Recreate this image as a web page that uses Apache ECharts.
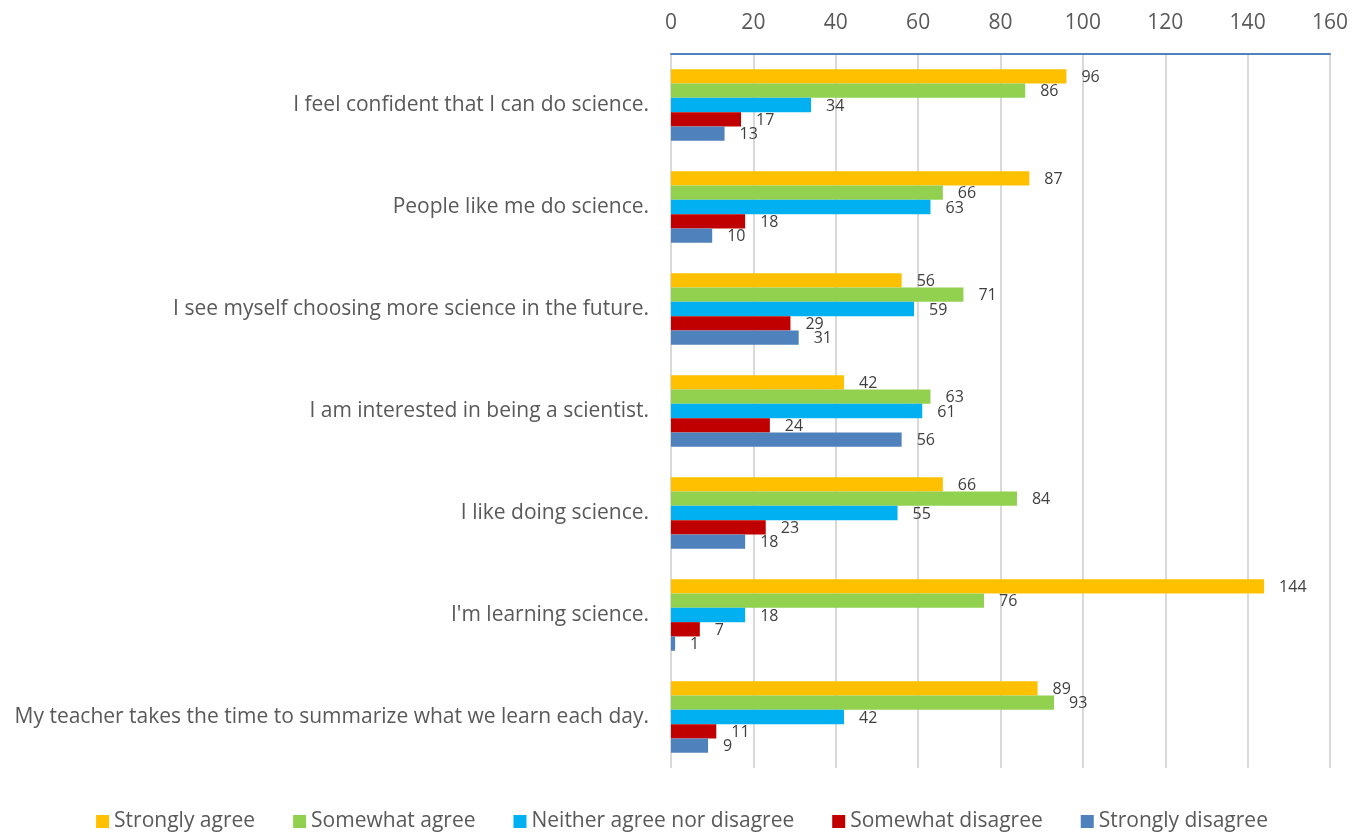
<!DOCTYPE html>
<html><head><meta charset="utf-8">
<script src="https://cdn.jsdelivr.net/npm/echarts@6/dist/echarts.min.js"></script>
<style>html,body{margin:0;padding:0;background:#fff}#c{width:1364px;height:832px}</style>
</head><body><div id="c"></div>
<script>
const categories = [
  "I feel confident that I can do science.",
  "People like me do science.",
  "I see myself choosing more science in the future.",
  "I am interested in being a scientist.",
  "I like doing science.",
  "I'm learning science.",
  "My teacher takes the time to summarize what we learn each day."
];
const seriesNames = ["Strongly agree","Somewhat agree","Neither agree nor disagree","Somewhat disagree","Strongly disagree"];
const stronglyAgree = [96, 87, 56, 42, 66, 144, 89];
const somewhatAgree = [86, 66, 71, 63, 84, 76, 93];
const neither = [34, 63, 59, 61, 55, 18, 42];
const somewhatDisagree = [17, 18, 29, 24, 23, 7, 11];
const stronglyDisagree = [13, 10, 31, 56, 18, 1, 9];
const xTicks = [0, 20, 40, 60, 80, 100, 120, 140, 160];

const colors = ["#FFC000","#92D050","#00B0F0","#C00000","#4F81BD"];
const values = [stronglyAgree, somewhatAgree, neither, somewhatDisagree, stronglyDisagree];
const FONT = "'Open Sans', 'Liberation Sans', sans-serif";

const chart = echarts.init(document.getElementById('c'), null, {renderer:'canvas'});
chart.setOption({
  animation: false,
  textStyle: {fontFamily: FONT},
  grid: {left: 671, right: 34, top: 54, bottom: 64, containLabel: false},
  legend: {
    left: 'center', top: 806,
    itemWidth: 13, itemHeight: 13, itemGap: 38,
    icon: 'rect',
    textStyle: {fontSize: 21, color: '#595959', fontFamily: FONT},
    data: seriesNames
  },
  xAxis: {
    type: 'value', position: 'top', min: xTicks[0], max: xTicks[xTicks.length-1], interval: 20,
    axisLine: {show: true, lineStyle: {color: '#4F81BD', width: 2}},
    axisTick: {show: false},
    axisLabel: {fontSize: 21, color: '#595959', margin: 20, fontFamily: FONT},
    splitLine: {show: true, lineStyle: {color: '#D9D9D9', width: 2}}
  },
  yAxis: {
    type: 'category', inverse: true, data: categories,
    axisLine: {show: false}, axisTick: {show: false},
    axisLabel: {fontSize: 21, color: '#595959', margin: 22, fontFamily: FONT}
  },
  series: seriesNames.map((n, i) => ({
    name: n, type: 'bar', data: values[i],
    itemStyle: {color: colors[i]},
    barWidth: 14.3, barGap: '0%',
    label: {show: true, position: 'right', distance: 15, fontSize: 16, color: '#404040', fontFamily: FONT, offset: [0, 1]}
  }))
});
</script></body></html>
